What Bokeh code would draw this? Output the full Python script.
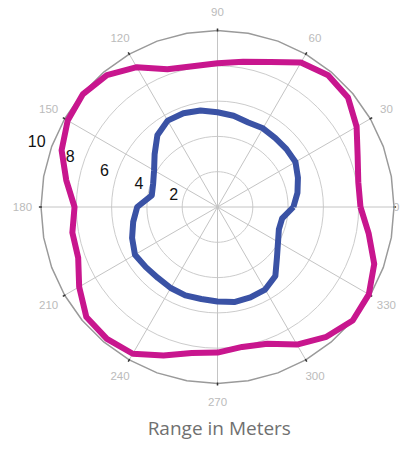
import numpy as np
from bokeh.plotting import figure
from bokeh.models import Range1d
from bokeh.core.properties import value
from bokeh.embed import file_html
from bokeh.resources import INLINE

# ---- data ----
angles_deg = [0, 10, 20, 30, 40, 50, 60, 70, 80, 90, 100, 110, 120, 130, 140, 150, 160, 170,
              180, 190, 200, 210, 220, 230, 240, 250, 260, 270, 280, 290, 300, 310, 320, 330, 340, 350]
outer_range = [8.1, 8.1, 8.45, 9.1, 9.65, 9.75, 9.45, 8.75, 8.35, 8.15, 8.1, 8.3, 9.15, 9.75, 9.95, 9.8, 9.4, 8.7,
               8.1, 8.35, 8.4, 9.05, 9.7, 9.75, 9.6, 8.95, 8.4, 8.25, 8.05, 8.25, 9.0, 9.6, 10.0, 9.9, 9.45, 8.7]
inner_range = [4.3, 4.6, 4.85, 5.1, 5.1, 5.1, 5.15, 5.1, 5.25, 5.37, 5.55, 5.65, 5.65, 5.3, 4.65, 4.15, 3.88, 3.78,
               4.55, 4.85, 5.15, 5.4, 5.3, 5.25, 5.3, 5.33, 5.29, 5.35, 5.47, 5.45, 5.4, 5.1, 4.4, 3.96, 3.7, 3.72]
ring_values = [2, 4, 6, 8, 10]
ring_labels = ["2", "4", "6", "8", "10"]
spoke_angles = [0, 30, 60, 90, 120, 150, 180, 210, 240, 270, 300, 330]
spoke_labels = ["0", "30", "60", "90", "120", "150", "180", "210", "240", "270", "300", "330"]
title_text = "Range in Meters"
r_max = 10

W, H = 401, 441
cx, cy = 217.0, 206.5
scale = 17.65
x_end = (W - cx) / scale
p = figure(width=W, height=H, output_backend="svg", toolbar_location=None,
           x_axis_type=None, y_axis_type=None, min_border=0,
           x_range=Range1d(-cx / scale, x_end),
           y_range=Range1d(-(H - cy) / scale, cy / scale))
p.grid.visible = False
p.outline_line_color = None
p.background_fill_color = "white"

def polar(r, a_deg):
    a = np.radians(np.asarray(a_deg, dtype=float))
    r = np.asarray(r, dtype=float)
    return r * np.cos(a), r * np.sin(a)

# inner rings
t = np.linspace(0, 360, 73)
for rv in ring_values[:-1]:
    x, y = polar(np.full_like(t, rv), t)
    p.line(x, y, line_color="#cccccc", line_width=1)

# spokes
for a in spoke_angles:
    x, y = polar([0, r_max], [a, a])
    p.line(x, y, line_color="#c4c4c4", line_width=1)

# outer circle
t2 = np.linspace(0, 360, 37)
x, y = polar(np.full_like(t2, r_max), t2)
p.line(x, y, line_color="#9a9a9a", line_width=1.5)

# ticks at spokes
for a in spoke_angles:
    x, y = polar([r_max - 0.05, r_max + 0.12], [a, a])
    p.line(x, y, line_color="#333333", line_width=1.5)

# series
a_closed = angles_deg + [angles_deg[0]]
x, y = polar(outer_range + [outer_range[0]], a_closed)
p.line(x, y, line_color="#C8168E", line_width=6, line_join="round")
x, y = polar(inner_range + [inner_range[0]], a_closed)
p.line(x, y, line_color="#3A52A5", line_width=6, line_join="round")

# angle labels (the one at the right edge is kept inside the frame)
lx, ly = polar([11.05] * len(spoke_angles), spoke_angles)
lx = np.minimum(lx, x_end - 0.3)
p.text(lx, ly, text=spoke_labels, text_align="center", text_baseline="middle",
       text_font=value("Liberation Sans"), text_font_size="11.5px", text_color="#bbbbbb")

# ring labels
rv = np.array(ring_values, dtype=float)
rx, ry = polar(rv * 1.04 + 0.5, 165 - 0.5 * rv)
p.text(rx, ry, text=ring_labels, text_align="center", text_baseline="middle",
       text_font=value("Liberation Sans"), text_font_size="16px", text_color="#111111")

# title
p.text([0.1], [(cy - 427.0) / scale], text=[title_text], text_align="center", text_baseline="middle",
       text_font=value("Open Sans"), text_font_size="19px", text_color="#707070")

open("out.html", "w").write(file_html(p, INLINE))
